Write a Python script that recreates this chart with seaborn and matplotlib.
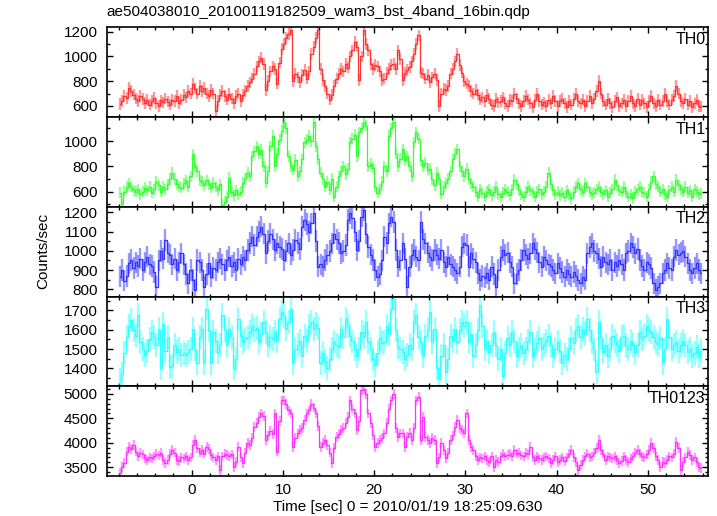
import numpy as np
import matplotlib
matplotlib.use("Agg")
import matplotlib.pyplot as plt
from matplotlib.ticker import MultipleLocator
import seaborn as sns

title = "ae504038010_20100119182509_wam3_bst_4band_16bin.qdp"
xlabel = "Time [sec] 0 = 2010/01/19 18:25:09.630"
ylabel = "Counts/sec"
bands = ["TH0", "TH1", "TH2", "TH3", "TH0123"]

# 16 x 1/64 s bins -> 0.25 s per point, starting at -8 s
t_start = -8.0
bin_width = 0.25

th0 = [
    615, 640, 680, 665, 745, 720, 690, 660, 640, 680, 655, 625, 650, 610, 640, 665,
    620, 600, 645, 630, 660, 635, 610, 650, 640, 680, 625, 650, 690, 670, 720, 700,
    780, 740, 700, 760, 720, 745, 700, 680, 730, 700, 560, 640, 690, 720, 680, 650,
    700, 660, 620, 680, 700, 640, 690, 720, 760, 790, 820, 860, 920, 960, 990, 940,
    730, 800, 880, 920, 900, 780, 950, 1060, 1100, 1150, 1180, 1215, 800, 860, 830, 790,
    850, 890, 820, 880, 1020, 1080, 1150, 1210, 900, 810, 760, 700, 650, 690, 760, 820,
    860, 900, 880, 940, 910, 1000, 1050, 1120, 1080, 810, 1000, 1210, 1100, 1050, 940, 900,
    930, 920, 880, 810, 820, 870, 900, 930, 940, 900, 1050, 980, 810, 870, 890, 915,
    960, 1020, 1100, 1170, 870, 860, 820, 850, 790, 830, 860, 810, 600, 700, 740, 730,
    760, 860, 900, 960, 1020, 930, 870, 800, 780, 760, 720, 700, 730, 690, 650, 670,
    640, 690, 660, 610, 600, 660, 630, 640, 670, 620, 600, 650, 640, 700, 660, 620,
    600, 640, 680, 650, 620, 590, 650, 700, 640, 610, 630, 600, 650, 620, 680, 640,
    600, 640, 660, 620, 590, 640, 610, 660, 700, 640, 620, 650, 600, 640, 680, 620,
    660, 720, 800, 700, 640, 610, 660, 620, 590, 640, 670, 600, 620, 650, 600, 640,
    680, 620, 600, 660, 610, 650, 620, 590, 640, 680, 620, 600, 650, 610, 640, 700,
    640, 610, 650, 680, 760, 700, 640, 620, 660, 610, 640, 590, 620, 650, 600, 595,
]

th1 = [
    590, 500, 600, 640, 667, 640, 610, 600, 620, 580, 600, 630, 610, 640, 590, 620,
    680, 650, 600, 640, 620, 660, 700, 750, 700, 660, 640, 630, 667, 690, 640, 720,
    895, 800, 760, 690, 680, 650, 690, 660, 630, 670, 640, 610, 660, 495, 520, 560,
    710, 600, 570, 610, 580, 600, 670, 700, 750, 720, 880, 920, 960, 900, 930, 800,
    670, 760, 960, 1040, 800, 900, 1010, 1080, 1150, 1100, 880, 800, 775, 850, 720, 760,
    855, 990, 1010, 1040, 1000, 1150, 960, 855, 750, 700, 640, 680, 615, 700, 560, 640,
    720, 760, 800, 740, 780, 990, 1020, 1050, 880, 1070, 1100, 1150, 1120, 800, 820, 790,
    640, 590, 620, 680, 800, 760, 1040, 1100, 1150, 900, 800, 860, 935, 850, 880, 800,
    720, 990, 1070, 1020, 850, 800, 830, 775, 780, 700, 650, 750, 700, 585, 640, 667,
    700, 760, 855, 900, 935, 800, 760, 720, 780, 700, 667, 640, 600, 560, 620, 590,
    560, 600, 620, 570, 600, 640, 580, 560, 590, 620, 600, 570, 620, 695, 660, 610,
    580, 560, 600, 640, 610, 590, 560, 600, 620, 580, 600, 640, 750, 660, 610, 580,
    600, 570, 590, 560, 610, 580, 550, 600, 640, 667, 620, 600, 667, 640, 600, 580,
    590, 620, 640, 600, 580, 610, 560, 590, 620, 695, 650, 610, 600, 640, 590, 560,
    580, 550, 600, 620, 640, 600, 590, 560, 620, 680, 720, 660, 640, 600, 620, 580,
    560, 610, 640, 600, 695, 650, 620, 600, 640, 590, 610, 560, 620, 600, 580, 587,
]

th2 = [
    866, 900, 845, 870, 935, 952, 910, 940, 920, 960, 900, 940, 970, 930, 920, 890,
    814, 950, 1000, 960, 1056, 990, 980, 930, 960, 900, 940, 987, 930, 880, 831, 900,
    848, 797, 952, 940, 900, 814, 880, 935, 866, 910, 900, 940, 960, 930, 900, 950,
    970, 920, 940, 900, 960, 930, 970, 950, 1004, 1040, 1074, 1030, 1074, 1100, 1126, 1090,
    987, 1050, 1090, 1060, 1004, 1039, 1020, 1010, 952, 1000, 1039, 980, 1004, 1056, 1040, 1010,
    1126, 1160, 1140, 1100, 1143, 1195, 1050, 918, 930, 918, 952, 980, 1000, 1039, 1090, 1060,
    1040, 987, 1000, 1030, 1160, 1195, 1170, 1100, 1004, 1050, 1178, 1212, 1090, 1020, 980, 952,
    900, 866, 880, 950, 1074, 1040, 1143, 1178, 1150, 1004, 918, 950, 1039, 960, 814, 918,
    980, 1004, 970, 950, 1150, 1060, 1039, 990, 970, 952, 1004, 980, 960, 1004, 940, 918,
    970, 930, 918, 900, 883, 918, 1022, 1039, 1030, 918, 987, 960, 940, 883, 848, 870,
    860, 883, 850, 918, 880, 814, 900, 970, 1004, 980, 990, 940, 918, 831, 880, 900,
    952, 1004, 980, 960, 987, 1039, 1010, 990, 940, 918, 970, 950, 930, 920, 900, 883,
    935, 910, 890, 866, 900, 880, 866, 890, 870, 848, 831, 866, 850, 987, 1020, 1039,
    1000, 987, 960, 918, 970, 940, 930, 952, 900, 940, 920, 952, 930, 900, 987, 1000,
    1039, 1020, 987, 1010, 952, 920, 900, 940, 930, 910, 831, 797, 814, 830, 883, 900,
    935, 910, 900, 970, 1004, 980, 990, 1000, 970, 935, 900, 883, 910, 935, 900, 883,
]

th3 = [
    1340, 1370, 1480, 1560, 1620, 1650, 1600, 1570, 1675, 1535, 1500, 1470, 1490, 1550, 1590, 1560,
    1520, 1605, 1400, 1630, 1490, 1560, 1405, 1410, 1520, 1485, 1500, 1470, 1480, 1470, 1485, 1500,
    1605, 1500, 1430, 1560, 1605, 1430, 1710, 1600, 1430, 1590, 1540, 1485, 1520, 1675, 1600, 1520,
    1605, 1560, 1400, 1450, 1655, 1570, 1535, 1550, 1560, 1590, 1620, 1600, 1610, 1535, 1580, 1640,
    1590, 1520, 1560, 1550, 1590, 1540, 1655, 1690, 1670, 1605, 1640, 1710, 1430, 1500, 1520, 1540,
    1465, 1570, 1540, 1620, 1640, 1605, 1630, 1610, 1430, 1480, 1440, 1400, 1450, 1500, 1535, 1520,
    1510, 1605, 1560, 1655, 1620, 1570, 1540, 1500, 1465, 1500, 1590, 1560, 1640, 1535, 1500, 1450,
    1415, 1480, 1555, 1530, 1535, 1620, 1580, 1710, 1760, 1600, 1510, 1500, 1485, 1450, 1470, 1520,
    1500, 1640, 1675, 1560, 1535, 1465, 1570, 1600, 1690, 1535, 1605, 1400, 1345, 1465, 1520, 1380,
    1450, 1570, 1540, 1605, 1535, 1600, 1640, 1620, 1640, 1535, 1580, 1465, 1520, 1600, 1730, 1620,
    1500, 1540, 1485, 1520, 1590, 1520, 1450, 1500, 1360, 1480, 1555, 1520, 1590, 1540, 1465, 1500,
    1520, 1480, 1500, 1540, 1590, 1465, 1500, 1530, 1555, 1500, 1520, 1540, 1570, 1520, 1465, 1500,
    1535, 1490, 1430, 1470, 1450, 1500, 1555, 1530, 1600, 1620, 1560, 1605, 1580, 1655, 1600, 1535,
    1500, 1380, 1640, 1560, 1485, 1520, 1465, 1500, 1570, 1540, 1520, 1490, 1560, 1570, 1520, 1500,
    1540, 1520, 1480, 1520, 1590, 1550, 1570, 1620, 1600, 1590, 1560, 1535, 1520, 1555, 1430, 1500,
    1655, 1560, 1500, 1520, 1535, 1490, 1520, 1540, 1520, 1485, 1500, 1465, 1480, 1510, 1465, 1490,
]

th0123 = [
    3380, 3500, 3580, 3820, 3920, 3880, 3950, 3820, 3720, 3800, 3760, 3680, 3650, 3700, 3680, 3720,
    3780, 3740, 3800, 3650, 3580, 3650, 3780, 3850, 3800, 3650, 3620, 3700, 3680, 3720, 3650, 3700,
    3950, 4050, 3900, 3800, 3850, 3780, 3920, 3880, 3750, 3700, 3650, 3720, 3450, 3720, 3780, 3750,
    3720, 3760, 3510, 3600, 3920, 3700, 3580, 3800, 3990, 3950, 4100, 4325, 4400, 4530, 4600, 4550,
    4050, 4150, 4250, 4180, 4600, 3820, 4450, 4865, 4865, 4800, 4660, 4600, 3920, 4100, 4190, 4260,
    4300, 4460, 4600, 4660, 4800, 4720, 4600, 4350, 3920, 4000, 4050, 3950, 3800, 3580, 3900, 4120,
    4180, 4260, 4300, 4400, 4530, 4865, 4700, 4600, 4260, 4450, 5070, 5100, 5000, 4600, 4400, 4155,
    3920, 4000, 4050, 4100, 4190, 4400, 4700, 4865, 5000, 4300, 4120, 4190, 4190, 3920, 4120, 4200,
    4050, 4300, 4865, 4930, 4050, 4530, 4120, 4050, 3990, 4100, 4050, 3580, 3700, 3990, 3850, 3680,
    3800, 4050, 4150, 4330, 4460, 4300, 4260, 4200, 4600, 4050, 3920, 3850, 3720, 3650, 3700, 3680,
    3720, 3650, 3600, 3720, 3510, 3650, 3600, 3720, 3780, 3720, 3750, 3780, 3720, 3850, 3780, 3800,
    3740, 3720, 3800, 3760, 3920, 3700, 3650, 3720, 3680, 3650, 3700, 3720, 3680, 3580, 3650, 3720,
    3600, 3650, 3700, 3620, 3700, 3780, 3850, 3700, 3600, 3450, 3550, 3650, 3720, 3780, 3700, 3720,
    3800, 3900, 4050, 3850, 3780, 3650, 3720, 3700, 3680, 3720, 3650, 3580, 3620, 3720, 3650, 3600,
    3680, 3720, 3800, 3850, 3780, 3720, 3700, 3760, 3850, 3990, 3900, 3720, 3650, 3510, 3600, 3580,
    3650, 3720, 3700, 3780, 4020, 3900, 3450, 3600, 3700, 3820, 3750, 3650, 3700, 3600, 3510, 3480,
]

series = [th0, th1, th2, th3, th0123]
errors = [46, 44, 56, 62, 100]
colors = ["#ff3333", "#33ff33", "#3333ff", "#33ffff", "#ff33ff"]
ylims = [(510, 1235), (480, 1190), (762, 1229), (1307, 1772), (3320, 5155)]
major_step = [200, 200, 100, 100, 500]
minor_step = [100, 100, 50, 50, 100]

sns.set_theme(style="ticks", rc={
    "axes.edgecolor": "black", "text.color": "black",
    "xtick.color": "black", "ytick.color": "black", "axes.labelcolor": "black",
})
plt.rcParams["font.family"] = ["Liberation Sans", "DejaVu Sans"]

fig, axes = plt.subplots(5, 1, sharex=True, figsize=(7.17, 5.16), dpi=100)
fig.subplots_adjust(left=0.1488, right=0.988, top=0.947, bottom=0.0775, hspace=0)

for ax, name, vals, err, c, ylim, mj, mn in zip(axes, bands, series, errors, colors,
                                                 ylims, major_step, minor_step):
    vals = np.array(vals, dtype=float)
    t = t_start + bin_width * (np.arange(len(vals)) + 0.5)
    ax.errorbar(t, vals, yerr=err, fmt="none", ecolor=c, elinewidth=1.7, alpha=0.5)
    sns.lineplot(x=t, y=vals, ax=ax, color=c, lw=0.9, drawstyle="steps-mid")
    ax.set_ylim(*ylim)
    ax.set_xlim(-9.32, 56.64)
    ax.yaxis.set_major_locator(MultipleLocator(mj))
    ax.yaxis.set_minor_locator(MultipleLocator(mn))
    ax.xaxis.set_major_locator(MultipleLocator(10))
    ax.xaxis.set_minor_locator(MultipleLocator(2))
    ax.tick_params(which="both", direction="in", top=True, right=True, width=1.0,
                   labelsize=11)
    ax.tick_params(which="major", length=4.5)
    ax.tick_params(which="minor", length=2.5)
    ax.tick_params(axis="y", pad=6.5)
    ax.tick_params(axis="x", pad=5)
    for sp in ax.spines.values():
        sp.set_linewidth(1.2)
    ax.set_xlabel("")
    ax.set_ylabel("")
    ax.text(0.995, 0.95, name, transform=ax.transAxes, ha="right", va="top",
            fontsize=11.5)

fig.text(0.1488, 0.977, title, ha="left", va="center", fontsize=11)
fig.text(0.06, 0.513, ylabel, rotation=90, ha="center", va="center", fontsize=11)
fig.text(0.568, 0.017, xlabel, ha="center", va="center", fontsize=11)

fig.savefig("out.png", dpi=100)
